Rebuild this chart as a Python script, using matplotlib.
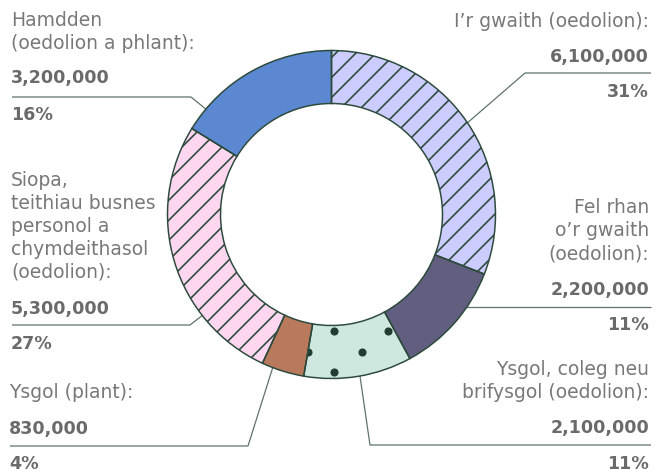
import numpy as np
import matplotlib
matplotlib.use("Agg")
import matplotlib.pyplot as plt
from matplotlib.collections import LineCollection

# data
names = ["I\u2019r gwaith (oedolion):",
         "Fel rhan\no\u2019r gwaith\n(oedolion):",
         "Ysgol, coleg neu\nbrifysgol (oedolion):",
         "Ysgol (plant):",
         "Siopa,\nteithiau busnes\npersonol a\nchymdeithasol\n(oedolion):",
         "Hamdden\n(oedolion a phlant):"]
values = [6100000, 2200000, 2100000, 830000, 5300000, 3200000]
value_labels = ["6,100,000", "2,200,000", "2,100,000", "830,000", "5,300,000", "3,200,000"]
pct_labels = ["31%", "11%", "11%", "4%", "27%", "16%"]
colors = ["#ccccff", "#625e80", "#cfe8df", "#b8795c", "#ffd6f0", "#5b88d0"]
pattern = ["lines", None, "dots", None, "lines", None]

edge = "#2c4a3c"
line_col = "#5f7468"
txt_col = "#787878"
num_col = "#6a6a6a"

W, H, DPI = 662, 472, 90
plt.rcParams['font.family'] = ['DejaVu Sans']

fig = plt.figure(figsize=(W / DPI, H / DPI), dpi=DPI)
ax = fig.add_axes([0, 0, 1, 1])

cx, cy = 331.5, H - 214.5
R, ring = 164, 53
wedges, _ = ax.pie(values, colors=colors, startangle=90, counterclock=False,
                   radius=R, center=(cx, cy),
                   wedgeprops=dict(width=ring, edgecolor=edge, linewidth=1.2))

# fill textures: diagonal lines and sparse dots, clipped to their wedge
offs = np.arange(-700, 700, 20.0) + 83
segs = [[(0, c), (W, c + W)] for c in offs]
gx, gy = np.meshgrid(np.arange(280, 460, 54.0), np.arange(300, 400, 41.0))
px = np.concatenate([gx.ravel(), gx.ravel() - 26])
py = np.concatenate([gy.ravel() + 31, gy.ravel() + 52])
for w, p in zip(wedges, pattern):
    if p == "lines":
        lc = LineCollection(segs, colors=edge, linewidths=1.3, zorder=2)
        ax.add_collection(lc)
        lc.set_clip_path(w)
    elif p == "dots":
        sc = ax.scatter(px, H - py, s=30, color="#1f3d30", zorder=2)
        sc.set_clip_path(w)
# redraw the outlines on top of the textures
for w in wedges:
    w.set_zorder(3)
    w.set_facecolor("none")
ax.pie(values, colors=colors, startangle=90, counterclock=False,
       radius=R, center=(cx, cy), wedgeprops=dict(width=ring, linewidth=0))

ax.set_xlim(0, W)
ax.set_ylim(0, H)
ax.axis("off")

fs_lab = 15.0
fs_num = 14.0
lsp = 1.26

# layout per segment: text x, align, label baseline, number baseline, line y,
# elbow x, pct baseline, anchor angle on the ring
layout = [
    (649, "right", 27, 62, 73, 525, 97, 34),
    (649, "right", 259, 295, 307, None, 330, -35),
    (649, "right", 398, 433, 445, 370, 469, -80),
    (9, "left", 398, 434, 446, 248, 469, -111),
    (11, "left", 278, 314, 325, 190, 349, -142),
    (11, "left", 49, 83, 97, 191, 120, 140),
]

for i, (tx, ha, lb, nb, ly, ex, pb, ang) in enumerate(layout):
    ax.text(tx, H - lb, names[i], ha=ha, va="baseline", fontsize=fs_lab,
            color=txt_col, linespacing=lsp, multialignment=ha)
    ax.text(tx, H - nb, value_labels[i], ha=ha, va="baseline", fontsize=fs_num,
            color=num_col, fontweight="bold")
    ax.text(tx, H - pb, pct_labels[i], ha=ha, va="baseline", fontsize=fs_num,
            color=num_col, fontweight="bold")
    a = np.deg2rad(ang)
    axp, ayp = cx + R * np.cos(a), cy + R * np.sin(a)
    x0 = tx + 2 if ha == "right" else tx + 1
    if ex is None:
        xs, ys = [x0, axp], [H - ly, H - ly]
    else:
        xs, ys = [x0, ex, axp], [H - ly, H - ly, ayp]
    ax.plot(xs, ys, color=line_col, lw=1.0, solid_capstyle="butt", zorder=1)

fig.savefig("out.png", dpi=DPI)
